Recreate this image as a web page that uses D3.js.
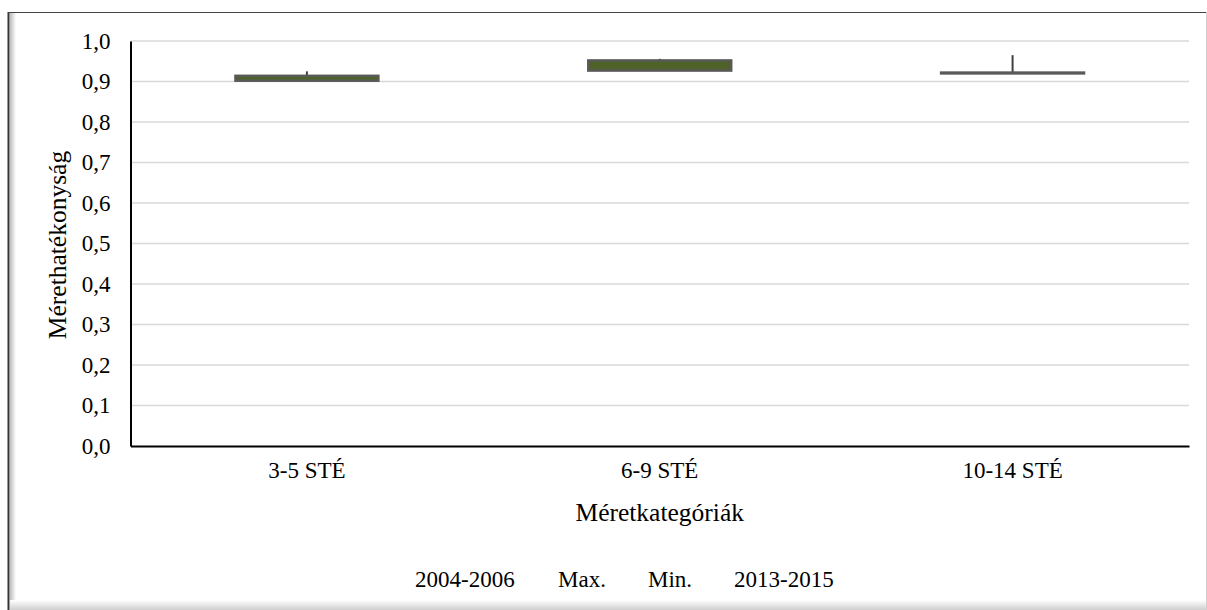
<!DOCTYPE html>
<html><head><meta charset="utf-8">
<script src="https://cdn.jsdelivr.net/npm/d3@7"></script>
<style>
html,body{margin:0;padding:0;background:#fff;}
svg text{font-family:"Liberation Serif","Times New Roman",serif !important;fill:#000;}
</style></head>
<body><svg id="c" width="1207" height="610"></svg>
<script>
const categories = ["3-5 STÉ", "6-9 STÉ", "10-14 STÉ"];
const q1Values  = [0.902, 0.927, 0.920];   // 2004-2006 (box bottom)
const q3Values  = [0.914, 0.952, 0.922];   // 2013-2015 (box top)
const maxValues = [0.925, 0.956, 0.965];
const minValues = [0.902, 0.927, 0.920];
const yTicks = [0,0.1,0.2,0.3,0.4,0.5,0.6,0.7,0.8,0.9,1.0];
const legendItems = ["2004-2006", "Max.", "Min.", "2013-2015"];
const xTitle = "Méretkategóriák";
const yTitle = "Mérethatékonyság";

const FONT = '"Liberation Serif", "Times New Roman", serif';
const FS = 23, FT = 25.5;
const svg = d3.select("#c");
const defs = svg.append("defs");
const lg = defs.append("linearGradient").attr("id","shL").attr("x1","0").attr("x2","1");
lg.append("stop").attr("offset","0").attr("stop-color","#bdbdbd");
lg.append("stop").attr("offset","1").attr("stop-color","#ffffff");
const bg = defs.append("linearGradient").attr("id","shB").attr("x1","0").attr("x2","0").attr("y1","0").attr("y2","1");
bg.append("stop").attr("offset","0").attr("stop-color","#ffffff");
bg.append("stop").attr("offset","1").attr("stop-color","#cfcfcf");

// frame
svg.append("rect").attr("x",8).attr("y",12).attr("width",1198).attr("height",598).attr("fill","#fff");
svg.append("rect").attr("x",10).attr("y",13).attr("width",6).attr("height",597).attr("fill","url(#shL)");
svg.append("rect").attr("x",10).attr("y",600).attr("width",1196).attr("height",10).attr("fill","url(#shB)");
svg.append("line").attr("x1",8.5).attr("x2",8.5).attr("y1",12).attr("y2",610).attr("stroke","#333").attr("stroke-width",2);
svg.append("line").attr("x1",8).attr("x2",1207).attr("y1",12.5).attr("y2",12.5).attr("stroke","#444").attr("stroke-width",1);
svg.append("line").attr("x1",1206.5).attr("x2",1206.5).attr("y1",12).attr("y2",610).attr("stroke","#d0d0d0").attr("stroke-width",1);

const m = {left:130.5, right:1189, top:41, bottom:446};
const x = d3.scaleBand().domain(categories).range([m.left, m.right]).paddingInner(0).paddingOuter(0);
const y = d3.scaleLinear().domain([0,1]).range([m.bottom, m.top]);
const barW = x.bandwidth()*0.405;

// gridlines
svg.append("g").selectAll("line").data(yTicks.filter(d=>d>0)).join("line")
  .attr("x1",m.left).attr("x2",m.right)
  .attr("y1",d=>y(d)).attr("y2",d=>y(d))
  .attr("stroke","#d9d9d9").attr("stroke-width",1.5);

// y axis
const yAxis = svg.append("g").attr("transform",`translate(${m.left},0)`)
  .call(d3.axisLeft(y).tickValues(yTicks).tickSize(0).tickPadding(20)
    .tickFormat(d=>d3.format(".1f")(d).replace(".",",")));
yAxis.attr("font-family",FONT).attr("font-size",FS);
yAxis.select(".domain").attr("stroke","#000").attr("stroke-width",2);
yAxis.selectAll("text").style("font-family",FONT).style("font-size",FS+"px");

// x axis
const xAxis = svg.append("g").attr("transform",`translate(0,${m.bottom})`)
  .call(d3.axisBottom(x).tickSize(0).tickPadding(16));
xAxis.attr("font-family",FONT).attr("font-size",FS);
xAxis.select(".domain").attr("stroke","#000").attr("stroke-width",2);
xAxis.selectAll("text").style("font-family",FONT).style("font-size",FS+"px");

// whiskers
const idx = d3.range(categories.length);
svg.append("g").selectAll("line").data(idx).join("line")
  .attr("x1",i=>x(categories[i])+x.bandwidth()/2).attr("x2",i=>x(categories[i])+x.bandwidth()/2)
  .attr("y1",i=>y(maxValues[i])).attr("y2",i=>y(q3Values[i]))
  .attr("stroke","#404040").attr("stroke-width",2);
svg.append("g").selectAll("line").data(idx).join("line")
  .attr("x1",i=>x(categories[i])+x.bandwidth()/2).attr("x2",i=>x(categories[i])+x.bandwidth()/2)
  .attr("y1",i=>y(q1Values[i])).attr("y2",i=>y(minValues[i]))
  .attr("stroke","#404040").attr("stroke-width",2);

// boxes
svg.append("g").selectAll("rect").data(idx).join("rect")
  .attr("x",i=>x(categories[i])+x.bandwidth()/2-barW/2)
  .attr("width",barW)
  .attr("y",i=>y(q3Values[i]))
  .attr("height",i=>y(q1Values[i])-y(q3Values[i]))
  .attr("fill","#4F6228").attr("stroke","#595959").attr("stroke-width",2.5);

// titles
svg.append("text").attr("x",(m.left+m.right)/2).attr("y",521).attr("text-anchor","middle")
  .style("font-family",FONT).style("font-size",FT+"px").text(xTitle);
svg.append("text").attr("transform",`translate(66,245) rotate(-90)`)
  .attr("text-anchor","middle").style("font-family",FONT).style("font-size",FT+"px").text(yTitle);

// legend (no visible symbols)
const legX = [415, 558, 648, 734];
svg.append("g").selectAll("text").data(legendItems).join("text")
  .attr("x",(d,i)=>legX[i]).attr("y",587).style("font-family",FONT).style("font-size",FS+"px").text(d=>d);
</script></body></html>
